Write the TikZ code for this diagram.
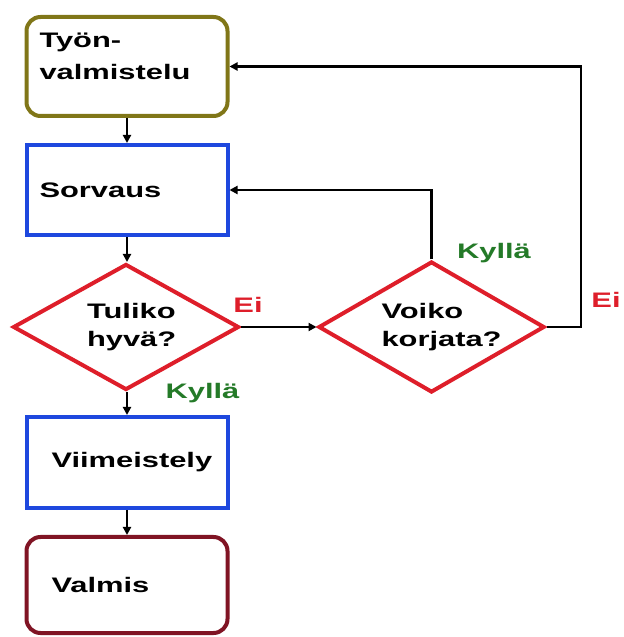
\documentclass[tikz,border=0pt]{standalone}
\usepackage{fontspec}
\setmainfont{Liberation Sans}[FakeStretch=1.47]
\usetikzlibrary{shapes.geometric,arrows.meta}

\definecolor{oliivi}{RGB}{128,118,24}
\definecolor{sininen}{RGB}{30,72,222}
\definecolor{punainen}{RGB}{222,30,42}
\definecolor{viini}{RGB}{128,20,36}
\definecolor{vihrea}{RGB}{36,122,40}

\newcommand{\teksti}{\fontsize{21bp}{28bp}\selectfont\bfseries}

\tikzset{
	laatikko/.style={draw, line width=4bp, minimum width=201bp, text width=175bp, align=left, inner xsep=13bp, font=\teksti},
	paatos/.style={diamond, shape aspect=2, draw=punainen, line width=4bp, align=left, font=\teksti},
	nuoli/.style={line width=2.5bp, -{Triangle[length=8bp,width=8bp]}},
	vastaus/.style={font=\teksti},
}

\begin{document}
\begin{tikzpicture}[x=10bp, y=10bp]
	\useasboundingbox (0,0) rectangle (62.4,63.7);
	% Vaiheet
		\node[laatikko, draw=oliivi, rounded corners=14bp, minimum height=99bp, text depth=52bp] (tyon) at (12.7,57.05) {Työn-\\[4bp]valmistelu};
		\node[laatikko, draw=sininen, minimum height=90bp] (sorv) at (12.7,44.7) {Sorvaus};
		\node[laatikko, draw=sininen, minimum height=91bp, text width=151bp] (viim) at (12.7,17.45) {Viimeistely};
		\node[laatikko, draw=viini, rounded corners=14bp, minimum height=96bp, text width=151bp] (valm) at (12.7,5.2) {Valmis};
	
	% Kysymykset
		\node[paatos, minimum width=226bp, minimum height=126bp, text width=78bp] (hyva) at (12.6,31.0) {Tuliko\\hyvä?};
		\node[paatos, minimum width=226bp, minimum height=131bp, text width=100bp] (korj) at (43.15,31.0) {Voiko\\korjata?};
	
	% Nuolet
		\draw[nuoli] (tyon.south) -- (sorv.north);
		\draw[nuoli] (sorv.south) -- (hyva.north -| sorv.south);
		\draw[nuoli] (hyva.east) -- (korj.west);
		\draw[nuoli] (hyva.south -| viim.north) -- (viim.north);
		\draw[nuoli] (viim.south) -- (valm.north);
		\draw[nuoli] (korj.north) |- (sorv.east);
		\coordinate (paluu) at (58.1,0);
		\draw[nuoli] (korj.east) -| (paluu |- tyon.east) -- (tyon.east);
	
	% Vastaukset
		\node[vastaus, text=punainen] (ei1) at (24.8,33.25) {Ei};
		\node[vastaus, text=vihrea] (kylla1) at (20.25,24.4) {Kyllä};
		\node[vastaus, text=vihrea] (kylla2) at (49.4,38.43) {Kyllä};
		\node[vastaus, text=punainen] (ei2) at (60.6,33.7) {Ei};
\end{tikzpicture}
\end{document}
